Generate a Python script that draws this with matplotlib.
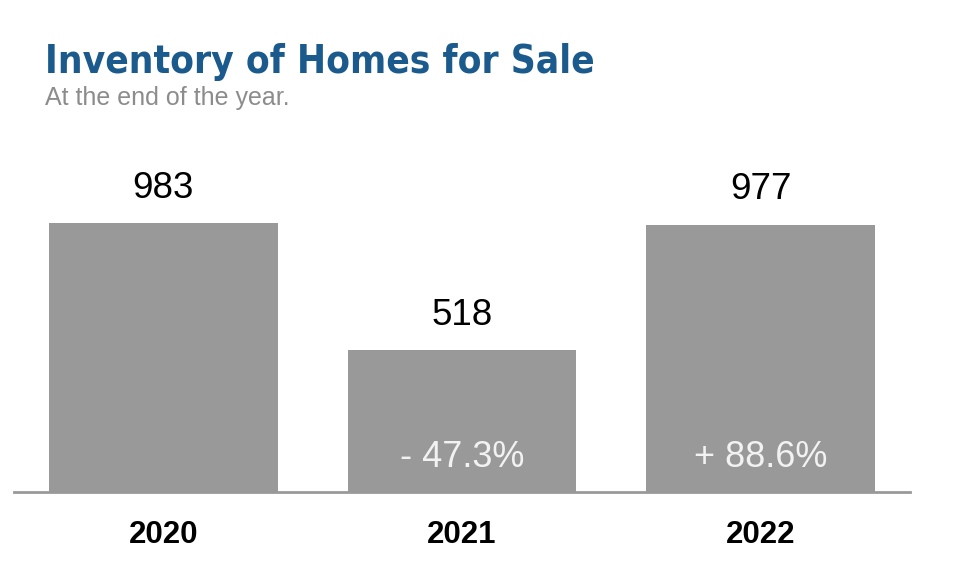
import matplotlib
matplotlib.use("Agg")
import matplotlib.pyplot as plt

years = ["2020", "2021", "2022"]
inventory = [983, 518, 977]
changes = ["", "- 47.3%", "+ 88.6%"]

plt.rcParams['font.family'] = ['Liberation Sans', 'DejaVu Sans']

fig = plt.figure(figsize=(9.6, 5.83), dpi=100)
ax = fig.add_axes([14/960, 1-492/583, 896/960, 352/583])

x = range(len(years))
bars = ax.bar(x, inventory, width=229/299, color='#999999', zorder=2)

ax.set_xlim(-0.5, 2.5)
ax.set_ylim(0, 983*352/269)

for b, v, c in zip(bars, inventory, changes):
    cx = b.get_x() + b.get_width()/2
    ax.annotate(str(v), (cx, v), xytext=(0, 12.5), textcoords='offset points',
                ha='center', va='bottom', fontsize=26.5, color='black')
    if c:
        ax.annotate(c, (cx, 0), xytext=(0, 12), textcoords='offset points',
                    ha='center', va='bottom', fontsize=26, color='#f2f2f2')

ax.set_xticks(list(x))
ax.set_xticklabels(years, fontsize=22.5, fontweight='bold')
ax.tick_params(axis='x', length=0, pad=20)
ax.set_yticks([])
for s in ['top', 'right', 'left']:
    ax.spines[s].set_visible(False)
ax.spines['bottom'].set_color('#999999')
ax.spines['bottom'].set_linewidth(2)
ax.spines['bottom'].set_zorder(3)

fig.text(45/960, 1-73/583, "Inventory of Homes for Sale", fontsize=27.8,
         fontweight='bold', fontstretch='condensed', color='#1b5a8c',
         va='baseline', family=['DejaVu Sans'])
fig.text(45/960, 1-105/583, "At the end of the year.", fontsize=18,
         color='#8c8c8c', va='baseline')

fig.savefig("out.png", dpi=100)
